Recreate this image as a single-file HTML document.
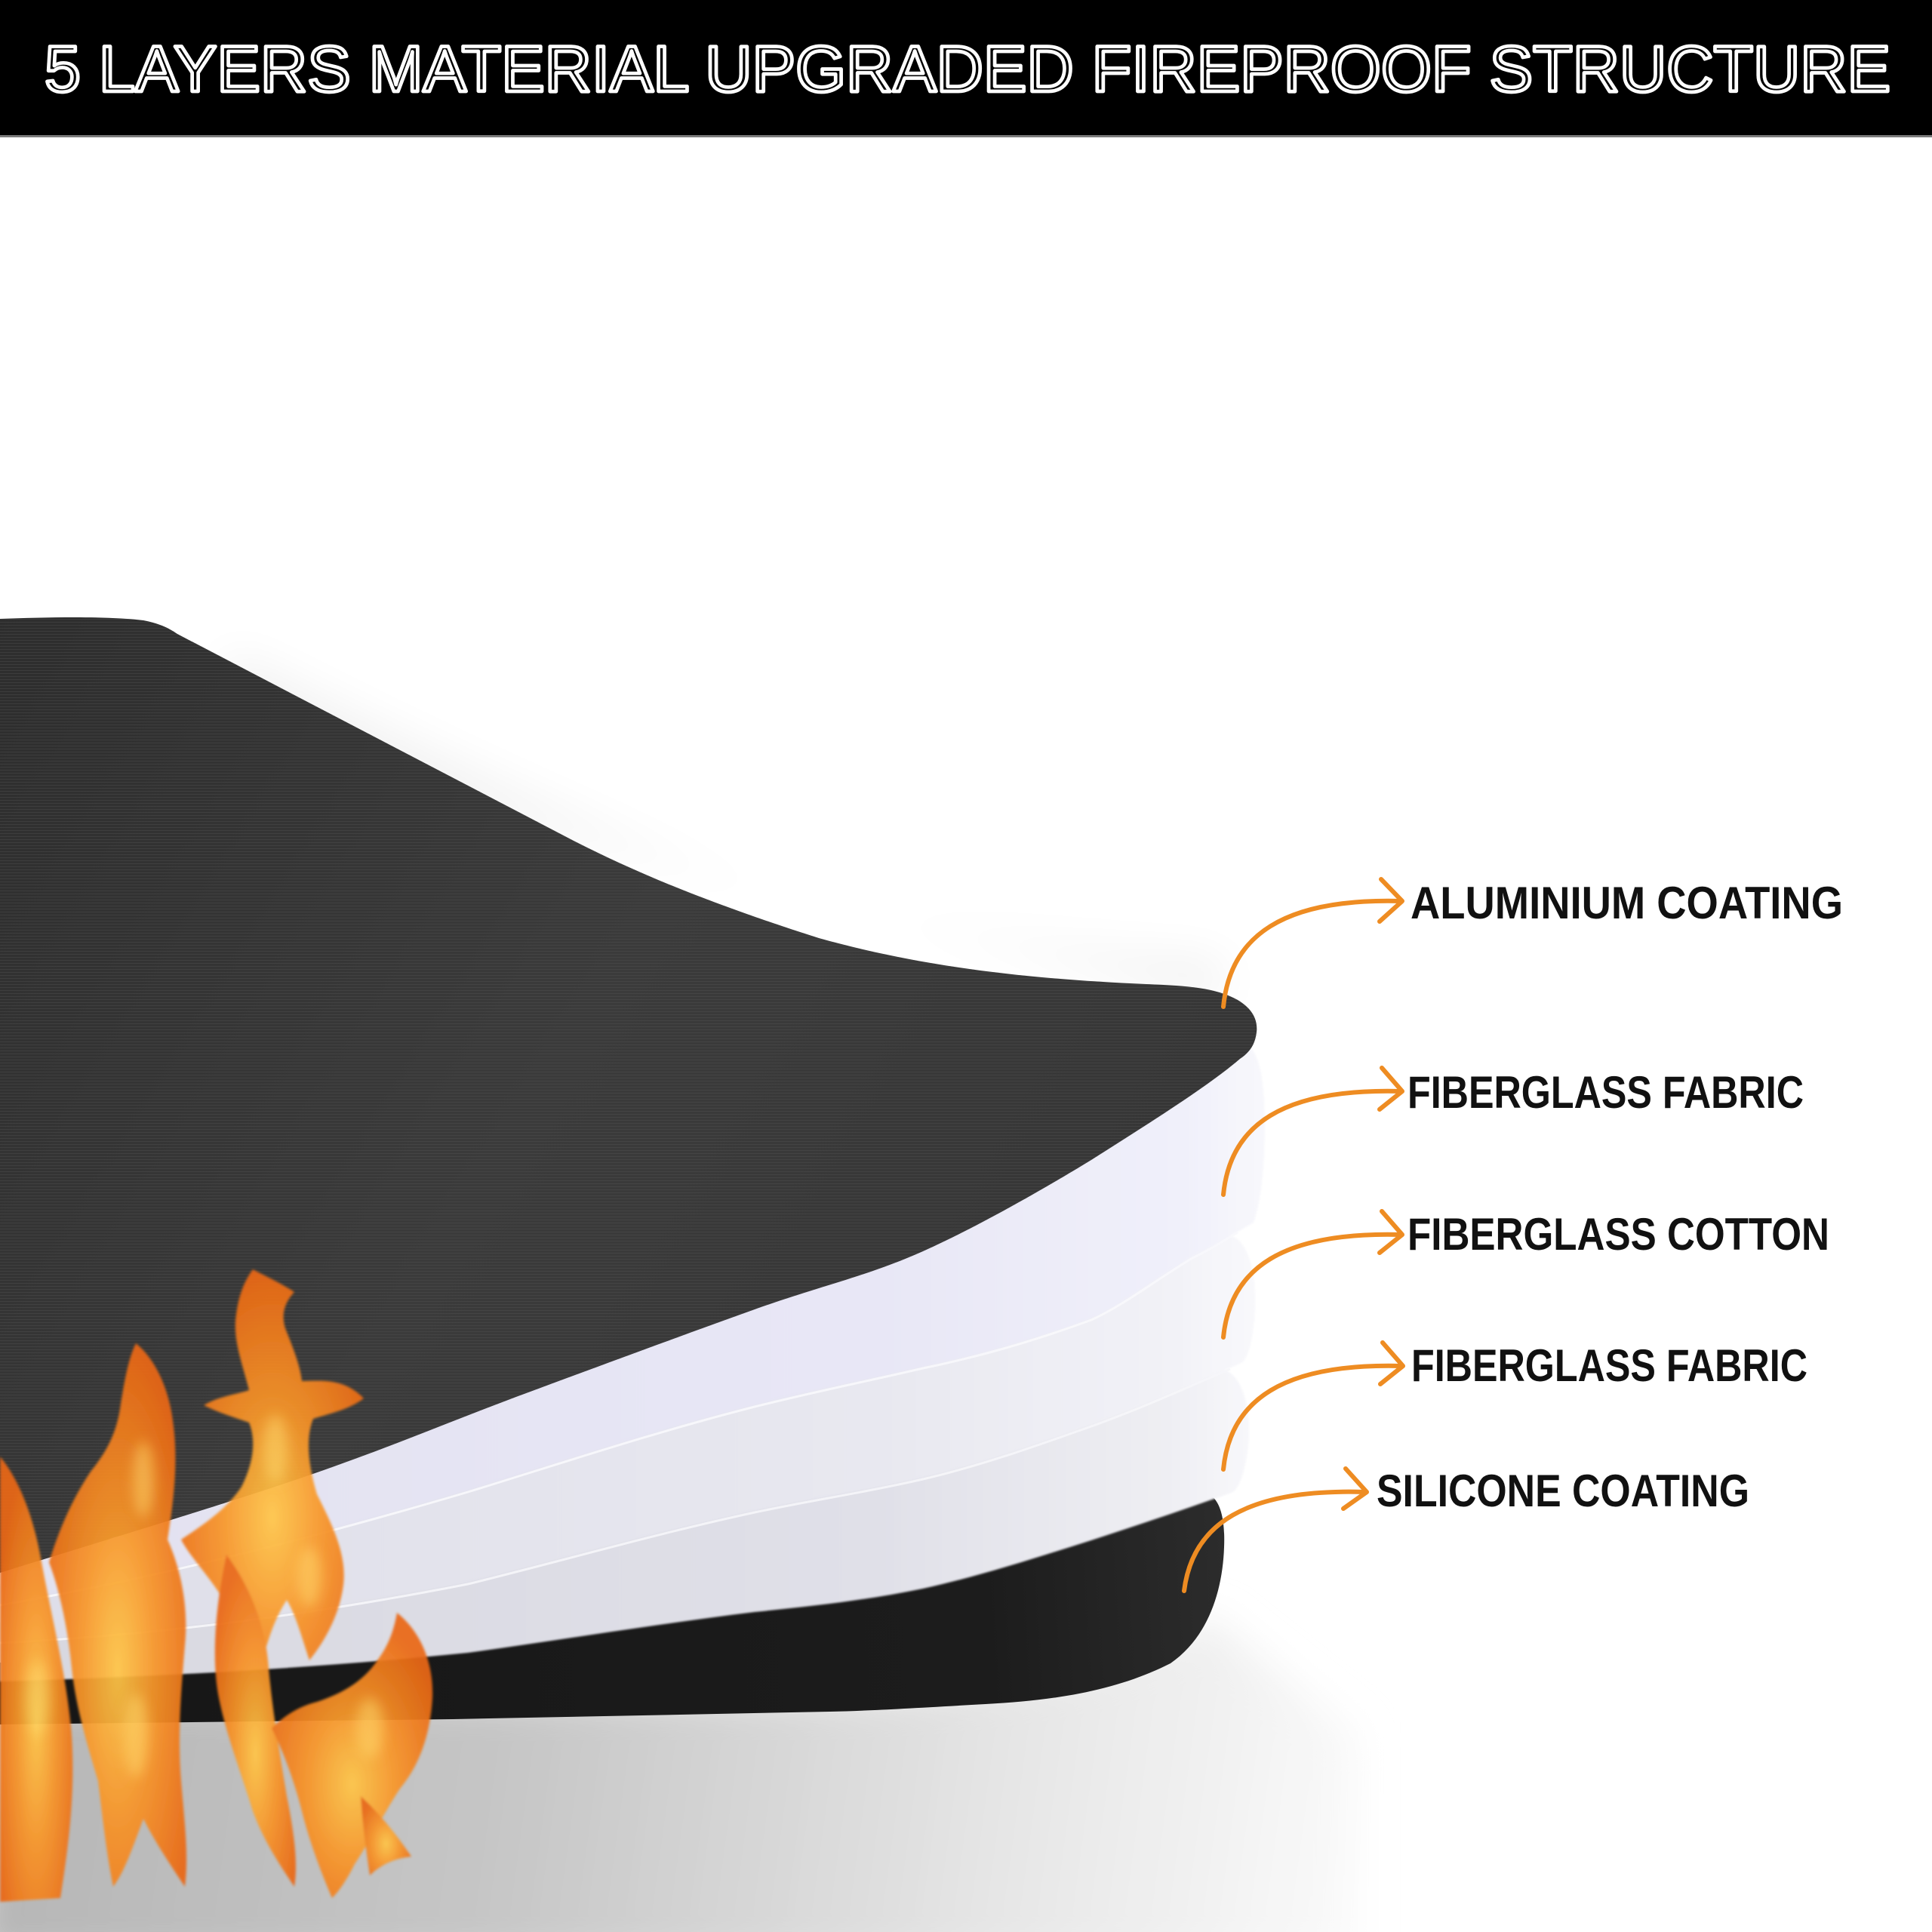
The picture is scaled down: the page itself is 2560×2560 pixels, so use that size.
<!DOCTYPE html>
<html>
<head>
<meta charset="utf-8">
<style>
  html,body{margin:0;padding:0;background:#fff;}
  svg{display:block;}
</style>
</head>
<body>
<svg width="2560" height="2560" viewBox="0 0 2560 2560" xmlns="http://www.w3.org/2000/svg">
  <defs>
    <linearGradient id="gL1" gradientUnits="userSpaceOnUse" x1="0" y1="800" x2="1600" y2="1800">
      <stop offset="0" stop-color="#2d2d2d"/>
      <stop offset="0.5" stop-color="#3b3b3b"/>
      <stop offset="1" stop-color="#353535"/>
    </linearGradient>
    <pattern id="weave" patternUnits="userSpaceOnUse" width="6" height="4">
      <rect width="6" height="4" fill="none"/>
      <rect y="0" width="6" height="1" fill="#555" opacity="0.35"/>
    </pattern>
    <linearGradient id="gL5" gradientUnits="userSpaceOnUse" x1="0" y1="2200" x2="1630" y2="2100">
      <stop offset="0" stop-color="#161616"/>
      <stop offset="0.8" stop-color="#1c1c1c"/>
      <stop offset="1" stop-color="#2c2c2c"/>
    </linearGradient>
    <linearGradient id="gW1" gradientUnits="userSpaceOnUse" x1="0" y1="0" x2="1680" y2="0">
      <stop offset="0" stop-color="#e2e1f0"/>
      <stop offset="0.7" stop-color="#e8e7f6"/>
      <stop offset="0.93" stop-color="#f0f0fa"/>
      <stop offset="1" stop-color="#f8f8fc"/>
    </linearGradient>
    <linearGradient id="gW2" gradientUnits="userSpaceOnUse" x1="0" y1="0" x2="1670" y2="0">
      <stop offset="0" stop-color="#dedee8"/>
      <stop offset="0.7" stop-color="#e8e8f0"/>
      <stop offset="0.93" stop-color="#f2f2f7"/>
      <stop offset="1" stop-color="#f9f9fc"/>
    </linearGradient>
    <linearGradient id="gW3" gradientUnits="userSpaceOnUse" x1="0" y1="0" x2="1660" y2="0">
      <stop offset="0" stop-color="#d8d8e0"/>
      <stop offset="0.7" stop-color="#e0e0e8"/>
      <stop offset="0.93" stop-color="#eeeef3"/>
      <stop offset="1" stop-color="#f8f8fb"/>
    </linearGradient>
    <linearGradient id="gShadow" gradientUnits="userSpaceOnUse" x1="0" y1="2300" x2="1900" y2="2560">
      <stop offset="0" stop-color="#b6b6b6"/>
      <stop offset="0.35" stop-color="#c6c6c6"/>
      <stop offset="0.7" stop-color="#e6e6e6"/>
      <stop offset="1" stop-color="#ffffff"/>
    </linearGradient>
    <radialGradient id="gFlame" cx="0.5" cy="0.6" r="0.6">
      <stop offset="0" stop-color="#ffc648"/>
      <stop offset="0.45" stop-color="#f8962a"/>
      <stop offset="1" stop-color="#ea6814"/>
    </radialGradient>
    <filter id="blurBig" x="-20%" y="-20%" width="140%" height="140%">
      <feGaussianBlur stdDeviation="25"/>
    </filter>
    <filter id="blurMid" x="-20%" y="-20%" width="140%" height="140%">
      <feGaussianBlur stdDeviation="30"/>
    </filter>
    <filter id="blurSoft" x="-10%" y="-10%" width="120%" height="120%">
      <feGaussianBlur stdDeviation="1.6"/>
    </filter>
    <filter id="blurEdge" x="-10%" y="-10%" width="120%" height="120%">
      <feGaussianBlur stdDeviation="1.2"/>
    </filter>
    <filter id="blurGlow" x="-30%" y="-30%" width="160%" height="160%">
      <feGaussianBlur stdDeviation="8"/>
    </filter>
  </defs>

  <!-- background -->
  <rect x="0" y="0" width="2560" height="2560" fill="#ffffff"/>

  <!-- header -->
  <rect x="0" y="0" width="2560" height="180" fill="#000"/>
  <rect x="0" y="179" width="2560" height="3" fill="#7a7a7a"/>
  <text x="59" y="121" font-family="'Liberation Sans', 'DejaVu Sans', sans-serif" font-size="86" fill="#000" stroke="#fff" stroke-width="4.7" stroke-linejoin="round" textLength="2446" lengthAdjust="spacing">5 LAYERS MATERIAL UPGRADED FIREPROOF STRUCTURE</text>

  <!-- faint haze above top layer -->
  <path d="M 300 860 C 500 960 700 1060 906 1140 C 1100 1210 1350 1260 1620 1270 L 1620 1330 L 300 1000 Z" fill="#000" opacity="0.05" filter="url(#blurMid)"/>

  <!-- bottom shadow -->
  <path d="M 0 2250 L 1100 2245 C 1300 2238 1500 2215 1600 2140 L 1800 2300 L 1800 2600 L -40 2600 Z" fill="url(#gShadow)" filter="url(#blurBig)"/>

  <!-- L5 silicone (bottom dark) -->
  <path d="M 0 2203 L 620 2165 L 1000 2111 L 1223 2080 L 1446 2016 L 1575 1978 C 1612 1968 1624 2000 1622 2050 C 1620 2110 1600 2170 1551 2204 C 1480 2240 1400 2253 1306 2258 C 1200 2264 1150 2267 1100 2268 L 600 2278 L 0 2285 Z" fill="url(#gL5)"/>

  <!-- W3 -->
  <path d="M 0 2150 L 620 2072 L 1000 1977 L 1223 1933 L 1446 1863 L 1600 1815 C 1650 1800 1662 1880 1652 1930 C 1648 1955 1642 1970 1634 1977 C 1570 2000 1510 2020 1446 2041 C 1370 2065 1300 2088 1223 2105 C 1150 2120 1080 2128 1000 2136 C 870 2152 750 2172 620 2190 C 400 2212 200 2222 0 2228 Z" fill="url(#gW3)" filter="url(#blurEdge)"/>

  <!-- W2 -->
  <path d="M 0 2100 L 620 1950 L 1000 1840 L 1223 1790 L 1446 1725 L 1600 1640 C 1655 1615 1668 1690 1662 1750 C 1659 1780 1654 1796 1647 1805 C 1580 1835 1510 1865 1446 1888 C 1370 1915 1300 1940 1223 1958 C 1150 1975 1080 1985 1000 2002 C 870 2030 750 2065 620 2097 C 400 2140 200 2165 0 2175 Z" fill="url(#gW2)" filter="url(#blurEdge)"/>

  <!-- W1 -->
  <path d="M 0 2064 C 67 2043 283 1978 400 1938 C 517 1898 600 1862 700 1825 C 800 1788 913 1746 1000 1715 C 1087 1684 1149 1671 1223 1638 C 1297 1605 1387 1553 1446 1517 C 1520 1470 1600 1420 1643 1383 C 1668 1380 1676 1430 1676 1490 C 1676 1550 1670 1595 1661 1620 C 1630 1638 1610 1650 1580 1665 C 1530 1695 1490 1727 1446 1747 C 1370 1775 1300 1795 1223 1811 C 1150 1828 1080 1842 1000 1862 C 870 1895 750 1935 620 1975 C 400 2040 200 2090 0 2125 Z" fill="url(#gW1)" filter="url(#blurEdge)"/>

  <!-- highlight lines on top of W2 / W3 -->
  <path d="M 1640 1633 C 1620 1645 1605 1655 1580 1667 C 1530 1697 1490 1729 1446 1749 C 1370 1777 1300 1797 1223 1813 C 1150 1830 1080 1844 1000 1864 C 870 1897 750 1937 620 1977 C 400 2042 200 2092 0 2127" fill="none" stroke="#f8f8fc" stroke-width="3" opacity="0.9"/>
  <path d="M 1630 1814 C 1570 1840 1510 1867 1446 1890 C 1370 1917 1300 1942 1223 1960 C 1150 1977 1080 1987 1000 2004 C 870 2032 750 2067 620 2099 C 400 2142 200 2167 0 2177" fill="none" stroke="#f6f6fa" stroke-width="3" opacity="0.9"/>

  <!-- L1 aluminium (top dark layer) -->
  <path d="M 0 820 C 60 818 140 816 190 822 C 210 826 222 831 235 840 L 760 1114 C 850 1160 950 1200 1085 1243 C 1200 1275 1330 1296 1519 1304 C 1570 1306 1610 1308 1640 1325 C 1660 1337 1667 1352 1665 1368 C 1663 1385 1655 1395 1643 1403 C 1600 1440 1520 1490 1446 1537 C 1387 1573 1297 1625 1223 1658 C 1149 1691 1087 1704 1000 1735 C 913 1766 800 1808 700 1845 C 600 1882 517 1918 400 1958 C 283 1998 67 2063 0 2084 Z" fill="url(#gL1)"/>
  <path d="M 0 820 C 60 818 140 816 190 822 C 210 826 222 831 235 840 L 760 1114 C 850 1160 950 1200 1085 1243 C 1200 1275 1330 1296 1519 1304 C 1570 1306 1610 1308 1640 1325 C 1660 1337 1667 1352 1665 1368 C 1663 1385 1655 1395 1643 1403 C 1600 1440 1520 1490 1446 1537 C 1387 1573 1297 1625 1223 1658 C 1149 1691 1087 1704 1000 1735 C 913 1766 800 1808 700 1845 C 600 1882 517 1918 400 1958 C 283 1998 67 2063 0 2084 Z" fill="url(#weave)"/>

  <!-- flames -->
  <g opacity="0.93" filter="url(#blurSoft)">
    <path d="M 335 1682 C 350 1690 372 1700 390 1712 C 378 1725 372 1740 378 1760 C 388 1785 398 1810 400 1830 C 425 1830 455 1825 482 1853 C 462 1868 440 1872 415 1880 C 405 1905 408 1940 420 1980 C 440 2020 460 2060 455 2100 C 450 2140 430 2175 410 2200 C 400 2170 392 2140 380 2120 C 360 2150 350 2190 340 2230 C 320 2190 300 2150 290 2110 C 270 2080 250 2060 240 2040 C 270 2020 300 2000 320 1970 C 335 1940 340 1910 330 1885 C 310 1878 290 1872 270 1862 C 290 1850 312 1848 330 1842 C 322 1810 310 1780 312 1750 C 315 1720 322 1700 335 1682 Z" fill="url(#gFlame)"/>
    <path d="M 180 1780 C 205 1800 225 1840 230 1890 C 236 1940 230 1990 222 2040 C 240 2080 250 2130 245 2180 C 240 2240 235 2300 240 2360 C 245 2420 250 2460 245 2500 C 225 2470 205 2440 190 2410 C 175 2450 165 2480 150 2500 C 140 2450 135 2400 130 2360 C 115 2310 100 2260 95 2210 C 90 2160 80 2110 65 2070 C 80 2020 100 1980 120 1950 C 140 1925 155 1900 160 1860 C 165 1830 170 1800 180 1780 Z" fill="url(#gFlame)"/>
    <path d="M 0 1930 C 25 1960 45 2010 55 2070 C 70 2150 90 2230 95 2300 C 100 2380 90 2450 80 2515 L 0 2520 Z" fill="url(#gFlame)"/>
    <path d="M 300 2060 C 330 2100 350 2150 355 2200 C 360 2260 370 2320 380 2380 C 390 2430 395 2470 390 2500 C 370 2470 350 2440 335 2400 C 320 2350 300 2300 290 2250 C 280 2200 285 2130 300 2060 Z" fill="url(#gFlame)"/>
    <path d="M 526 2137 C 555 2160 575 2200 573 2250 C 570 2300 555 2340 530 2370 C 510 2400 490 2440 470 2470 C 460 2490 450 2505 440 2515 C 425 2480 410 2440 400 2400 C 390 2360 375 2320 360 2290 C 380 2270 400 2260 420 2255 C 450 2245 480 2230 500 2200 C 515 2180 522 2160 526 2137 Z" fill="url(#gFlame)"/>
    <path d="M 478 2380 C 500 2400 525 2430 545 2460 C 525 2462 505 2470 490 2485 C 485 2450 480 2415 478 2380 Z" fill="url(#gFlame)"/>
  </g>
  <g fill="#ffdc70" opacity="0.5" filter="url(#blurGlow)">
    <ellipse cx="365" cy="1920" rx="16" ry="45"/>
    <ellipse cx="190" cy="1960" rx="14" ry="50"/>
    <ellipse cx="410" cy="2090" rx="16" ry="40"/>
    <ellipse cx="490" cy="2290" rx="18" ry="40"/>
    <ellipse cx="180" cy="2300" rx="16" ry="55"/>
    <ellipse cx="50" cy="2250" rx="14" ry="50"/>
  </g>

  <!-- arrows -->
  <g fill="none" stroke="#ee8c22" stroke-width="6" stroke-linecap="round" stroke-linejoin="round">
    <path d="M 1621 1334 C 1630 1240 1700 1190 1856 1194"/>
    <path d="M 1830 1165 L 1858 1194 L 1828 1221"/>
    <path d="M 1621 1583 C 1630 1490 1700 1442 1856 1446"/>
    <path d="M 1831 1415 L 1858 1446 L 1828 1470"/>
    <path d="M 1621 1772 C 1630 1680 1700 1632 1856 1636"/>
    <path d="M 1831 1605 L 1858 1636 L 1828 1660"/>
    <path d="M 1621 1947 C 1630 1855 1700 1806 1857 1810"/>
    <path d="M 1832 1779 L 1859 1810 L 1829 1834"/>
    <path d="M 1569 2108 C 1580 2020 1650 1972 1809 1977"/>
    <path d="M 1783 1946 L 1811 1977 L 1780 1999"/>
  </g>

  <!-- labels -->
  <g font-family="'Liberation Sans', 'DejaVu Sans', sans-serif" font-weight="bold" font-size="60" fill="#111">
    <text x="1869" y="1217" textLength="573" lengthAdjust="spacingAndGlyphs">ALUMINIUM COATING</text>
    <text x="1865" y="1468" textLength="525" lengthAdjust="spacingAndGlyphs">FIBERGLASS FABRIC</text>
    <text x="1865" y="1656" textLength="559" lengthAdjust="spacingAndGlyphs">FIBERGLASS COTTON</text>
    <text x="1870" y="1830" textLength="525" lengthAdjust="spacingAndGlyphs">FIBERGLASS FABRIC</text>
    <text x="1824" y="1996" textLength="494" lengthAdjust="spacingAndGlyphs">SILICONE COATING</text>
  </g>
</svg>
</body>
</html>
